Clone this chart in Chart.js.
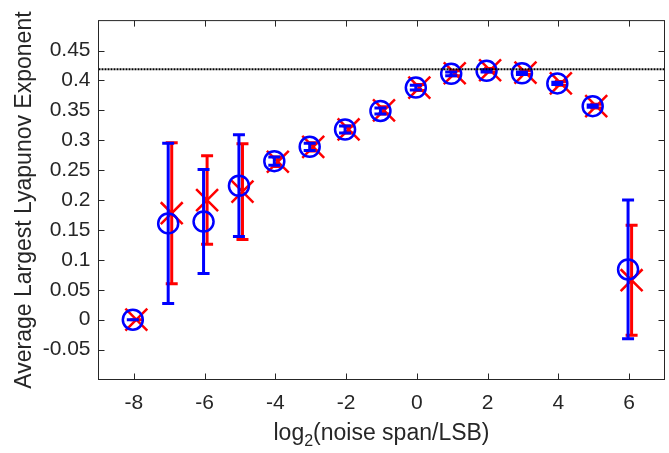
<!DOCTYPE html>
<html lang="en">
<head>
<meta charset="UTF-8">
<title>Average Largest Lyapunov Exponent</title>
<script src="https://cdn.jsdelivr.net/npm/chart.js@4.4.0/dist/chart.umd.min.js"></script>
<style>
  html, body { margin: 0; padding: 0; background: #fff; }
  #wrap { width: 669px; height: 453px; position: relative; }
</style>
</head>
<body>
<div id="wrap"><canvas id="myChart"></canvas></div>
<script>
// x categories: log2(noise span / LSB)
const noiseLog2 = [-8, -7, -6, -5, -4, -3, -2, -1, 0, 1, 2, 3, 4, 5, 6];

// blue circles + blue error bars
const meanCircle = [0, 0.161, 0.164, 0.224, 0.265, 0.289, 0.318, 0.349, 0.388, 0.411, 0.416, 0.412, 0.395, 0.357, 0.084];
const errCircle  = [0, 0.134, 0.087, 0.085, 0.007, 0.006, 0.006, 0.005, 0.004, 0.003, 0.002, 0.002, 0.002, 0.002, 0.116];

// red crosses + red error bars
const meanCross = [0, 0.178, 0.200, 0.214, 0.264, 0.289, 0.318, 0.350, 0.388, 0.412, 0.417, 0.413, 0.395, 0.357, 0.066];
const errCross  = [0, 0.118, 0.074, 0.080, 0.008, 0.007, 0.006, 0.006, 0.005, 0.004, 0.003, 0.003, 0.003, 0.003, 0.092];

// dotted reference level
const refLevel = 0.4185;

const xTickValues = [-8, -6, -4, -2, 0, 2, 4, 6];
const yTickValues = [-0.05, 0, 0.05, 0.1, 0.15, 0.2, 0.25, 0.3, 0.35, 0.4, 0.45];

const FONT = '"Liberation Sans", Arial, Helvetica, sans-serif';
const TEXT = '#262626';
const CAP = 6;          // half width of error bar caps
const TICK_LEN = 6;     // inward tick marks

const toPoints = (ys, dx) => noiseLog2.map((x, i) => ({ x: x + dx, y: ys[i] }));

const matlabAxes = {
  id: 'matlabAxes',
  beforeDatasetDraw(chart, args) {
    const ds = chart.data.datasets[args.index];
    if (!ds.errors) return;
    const ctx = chart.ctx;
    const y = chart.scales.y;
    ctx.save();
    ctx.strokeStyle = ds.borderColor;
    ctx.lineWidth = 3;
    args.meta.data.forEach((pt, i) => {
      const v = ds.data[i].y, e = ds.errors[i];
      const top = y.getPixelForValue(v + e);
      const bot = y.getPixelForValue(v - e);
      ctx.beginPath();
      ctx.moveTo(pt.x, top); ctx.lineTo(pt.x, bot);
      ctx.moveTo(pt.x - CAP, top); ctx.lineTo(pt.x + CAP, top);
      ctx.moveTo(pt.x - CAP, bot); ctx.lineTo(pt.x + CAP, bot);
      ctx.stroke();
    });
    ctx.restore();
  },
  afterDraw(chart) {
    const ctx = chart.ctx;
    const a = chart.chartArea;
    const xs = chart.scales.x, ys = chart.scales.y;
    ctx.save();
    // frame
    ctx.strokeStyle = TEXT;
    ctx.lineWidth = 1;
    ctx.strokeRect(a.left, a.top, a.right - a.left, a.bottom - a.top);
    // inward ticks on all four sides
    ctx.beginPath();
    xTickValues.forEach(v => {
      const px = Math.round(xs.getPixelForValue(v)) + 0.5;
      ctx.moveTo(px, a.bottom); ctx.lineTo(px, a.bottom - TICK_LEN);
      ctx.moveTo(px, a.top); ctx.lineTo(px, a.top + TICK_LEN);
    });
    yTickValues.forEach(v => {
      const py = Math.round(ys.getPixelForValue(v)) + 0.5;
      ctx.moveTo(a.left, py); ctx.lineTo(a.left + TICK_LEN, py);
      ctx.moveTo(a.right, py); ctx.lineTo(a.right - TICK_LEN, py);
    });
    ctx.stroke();

    ctx.fillStyle = TEXT;
    // y title
    ctx.save();
    ctx.font = '23px ' + FONT;
    ctx.translate(31, (a.top + a.bottom) / 2);
    ctx.rotate(-Math.PI / 2);
    ctx.textAlign = 'center';
    ctx.textBaseline = 'alphabetic';
    ctx.fillText('Average Largest Lyapunov Exponent', 0, 0);
    ctx.restore();

    // x title with subscript
    const big = '23px ' + FONT, small = '16px ' + FONT;
    const p1 = 'log', p2 = '2', p3 = '(noise span/LSB)';
    ctx.font = big; const w1 = ctx.measureText(p1).width, w3 = ctx.measureText(p3).width;
    ctx.font = small; const w2 = ctx.measureText(p2).width;
    let x0 = (a.left + a.right) / 2 - (w1 + w2 + w3) / 2;
    const base = 440;
    ctx.textAlign = 'left';
    ctx.textBaseline = 'alphabetic';
    ctx.font = big; ctx.fillText(p1, x0, base); x0 += w1;
    ctx.font = small; ctx.fillText(p2, x0, base + 6); x0 += w2;
    ctx.font = big; ctx.fillText(p3, x0, base);
    ctx.restore();
  }
};

const ctx = document.getElementById('myChart').getContext('2d');
new Chart(ctx, {
  type: 'scatter',
  data: {
    datasets: [
      {
        label: 'reference',
        type: 'line',
        data: [{ x: -9, y: refLevel }, { x: 7, y: refLevel }],
        borderColor: '#000000',
        borderWidth: 2,
        borderDash: [2, 1],
        pointRadius: 0,
        order: 0
      },
      {
        label: 'circles',
        data: toPoints(meanCircle, -0.03),
        errors: errCircle,
        borderColor: '#0000ff',
        backgroundColor: 'rgba(0,0,0,0)',
        pointStyle: 'circle',
        pointRadius: 10,
        pointBorderWidth: 2.5,
        order: 1
      },
      {
        label: 'crosses',
        data: toPoints(meanCross, 0.07),
        errors: errCross,
        borderColor: '#ff0000',
        backgroundColor: 'rgba(0,0,0,0)',
        pointStyle: 'crossRot',
        pointRadius: 15.5,
        pointBorderWidth: 2.5,
        order: 2
      }
    ]
  },
  options: {
    responsive: true,
    maintainAspectRatio: false,
    animation: false,
    events: [],
    layout: { autoPadding: false, padding: { top: 15.5, right: 4.5, left: 0, bottom: 0 } },
    plugins: { legend: { display: false }, tooltip: { enabled: false } },
    scales: {
      x: {
        type: 'linear',
        min: -9, max: 7,
        grid: { display: false, drawTicks: false },
        border: { display: false },
        afterBuildTicks: s => { s.ticks = xTickValues.map(v => ({ value: v })); },
        afterFit: s => { s.height = 73.5; },
        ticks: { color: TEXT, font: { family: FONT, size: 21 }, padding: 11, maxRotation: 0 }
      },
      y: {
        type: 'linear',
        min: -0.1, max: 0.5,
        grid: { display: false, drawTicks: false },
        border: { display: false },
        afterBuildTicks: s => { s.ticks = yTickValues.map(v => ({ value: v })); },
        afterFit: s => { s.width = 98.5; },
        ticks: {
          color: TEXT, font: { family: FONT, size: 21 }, padding: 8,
          callback: v => String(parseFloat(v.toFixed(2)))
        }
      }
    }
  },
  plugins: [matlabAxes]
});
</script>
</body>
</html>
